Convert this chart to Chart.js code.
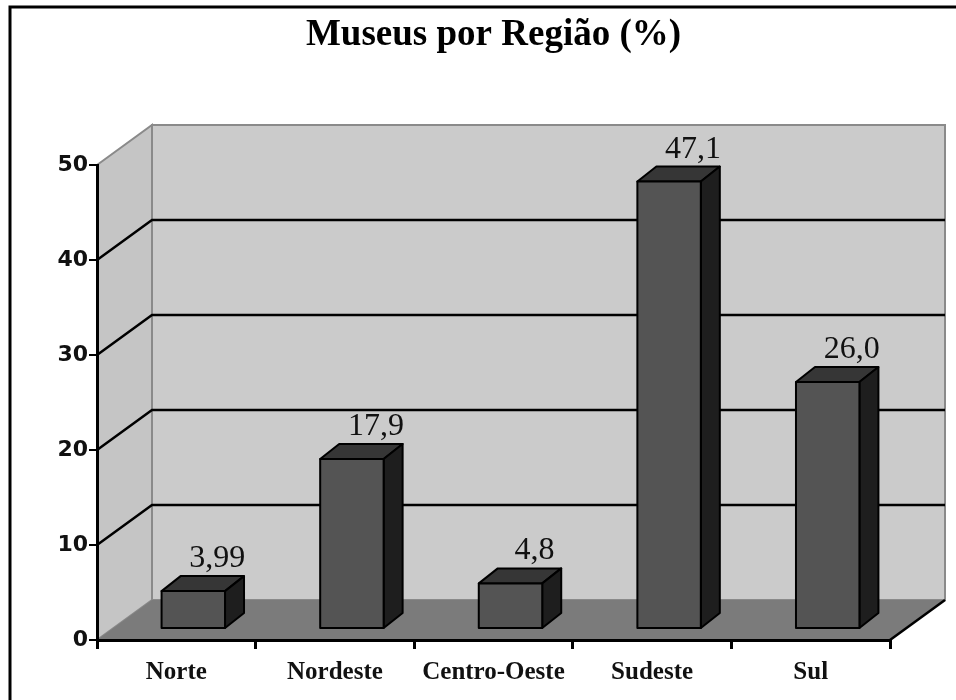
<!DOCTYPE html>
<html>
<head>
<meta charset="utf-8">
<script src="https://cdn.jsdelivr.net/npm/chart.js@4.4.1/dist/chart.umd.min.js"></script>
<style>
  html, body { margin: 0; background: #fff; }
  #wrap { width: 956px; height: 700px; }
</style>
</head>
<body>
<div id="wrap"><canvas id="grafico"></canvas></div>
<script>
const tituloGrafico = "Museus por Região (%)";
const regioes = ["Norte", "Nordeste", "Centro-Oeste", "Sudeste", "Sul"];
const percentuais = [3.99, 17.9, 4.8, 47.1, 26.0];
const rotulosValores = ["3,99", "17,9", "4,8", "47,1", "26,0"];
const ticksY = [0, 10, 20, 30, 40, 50];

// deslocamentos da perspectiva
const fundo = { dx: 55, dy: -40 };
const barraPos = { dx: 17, dy: -11 };
const barraProf = { dx: 19, dy: -15 };

function poly(ctx, pts, fill, stroke, lw) {
  ctx.beginPath();
  ctx.moveTo(pts[0][0], pts[0][1]);
  for (let i = 1; i < pts.length; i++) ctx.lineTo(pts[i][0], pts[i][1]);
  ctx.closePath();
  if (fill) { ctx.fillStyle = fill; ctx.fill(); }
  if (stroke) { ctx.strokeStyle = stroke; ctx.lineWidth = lw; ctx.stroke(); }
}

const cena3d = {
  id: "cena3d",
  beforeDraw(chart) {
    const ctx = chart.ctx;
    const { left, right, top, bottom } = chart.chartArea;
    const y = chart.scales.y;
    ctx.save();
    // moldura
    ctx.strokeStyle = "#000";
    ctx.lineWidth = 3;
    ctx.beginPath();
    ctx.moveTo(10, 720);
    ctx.lineTo(10, 7);
    ctx.lineTo(970, 7);
    ctx.stroke();

    const bx = fundo.dx, by = fundo.dy;
    // parede de fundo
    poly(ctx, [[left + bx, top + by], [right + bx, top + by], [right + bx, bottom + by], [left + bx, bottom + by]], "#cbcbcb", "#8a8a8a", 2);
    // parede lateral
    poly(ctx, [[left, top], [left + bx, top + by], [left + bx, bottom + by], [left, bottom]], "#c5c5c5", "#8a8a8a", 2);
    // piso
    poly(ctx, [[left, bottom], [right, bottom], [right + bx, bottom + by], [left + bx, bottom + by]], "#7b7b7b", null, 0);

    // linhas de grade
    ctx.strokeStyle = "#000";
    ctx.lineWidth = 2.5;
    ticksY.forEach((v) => {
      if (v === 0 || v === 50) return;
      const py = y.getPixelForValue(v);
      ctx.beginPath();
      ctx.moveTo(left, py);
      ctx.lineTo(left + bx, py + by);
      ctx.lineTo(right + bx, py + by);
      ctx.stroke();
    });
    // aresta do piso
    ctx.beginPath();
    ctx.moveTo(right, bottom);
    ctx.lineTo(right + bx, bottom + by);
    ctx.stroke();
    ctx.restore();
  },
  afterDatasetsDraw(chart) {
    const ctx = chart.ctx;
    const meta = chart.getDatasetMeta(0);
    ctx.save();
    ctx.lineJoin = "round";
    meta.data.forEach((bar, i) => {
      const w = bar.width;
      const x0 = bar.x - w / 2 + barraPos.dx;
      const x1 = bar.x + w / 2 + barraPos.dx;
      const yt = bar.y + barraPos.dy;
      const yb = bar.base + barraPos.dy;
      const dx = barraProf.dx, dy = barraProf.dy;
      // topo
      poly(ctx, [[x0, yt], [x1, yt], [x1 + dx, yt + dy], [x0 + dx, yt + dy]], "#363636", "#000", 2);
      // lateral
      poly(ctx, [[x1, yt], [x1 + dx, yt + dy], [x1 + dx, yb + dy], [x1, yb]], "#1e1e1e", "#000", 2);
      // frente
      poly(ctx, [[x0, yt], [x1, yt], [x1, yb], [x0, yb]], "#545454", "#000", 2);

      // rótulo do valor
      ctx.fillStyle = "#111";
      ctx.font = "32px 'Liberation Serif'";
      ctx.textAlign = "center";
      ctx.textBaseline = "alphabetic";
      ctx.fillText(rotulosValores[i], bar.x + barraPos.dx + 24, yt + dy - 9);
    });
    ctx.restore();
  }
};

new Chart(document.getElementById("grafico"), {
  type: "bar",
  data: {
    labels: regioes,
    datasets: [{
      data: percentuais,
      backgroundColor: "rgba(0,0,0,0)",
      borderWidth: 0,
      barPercentage: 0.4,
      categoryPercentage: 1
    }]
  },
  options: {
    responsive: true,
    maintainAspectRatio: false,
    animation: false,
    layout: { padding: { left: 0, right: 66, top: 0, bottom: 0 } },
    plugins: {
      legend: { display: false },
      tooltip: { enabled: false },
      title: {
        display: true,
        text: tituloGrafico,
        fullSize: false,
        color: "#000",
        font: { family: "'Liberation Serif'", size: 37, weight: "bold" },
        padding: { top: 13, bottom: 107.6 }
      }
    },
    scales: {
      x: {
        grid: { drawOnChartArea: false, drawTicks: true, tickLength: 9, color: "#000", lineWidth: 3 },
        border: { display: true, color: "#000", width: 3 },
        ticks: {
          color: "#111",
          padding: 9,
          font: { family: "'Liberation Serif'", size: 25, weight: "bold" }
        },
        afterFit(scale) { scale.height = 60; }
      },
      y: {
        min: 0,
        max: 50,
        afterBuildTicks(scale) { scale.ticks = ticksY.map((v) => ({ value: v })); },
        grid: { drawOnChartArea: false, drawTicks: true, tickLength: 8, color: "#000", lineWidth: 2 },
        border: { display: true, color: "#000", width: 3 },
        ticks: {
          color: "#111",
          padding: 1,
          font: { family: "'DejaVu Sans'", size: 22, weight: "bold" }
        },
        afterFit(scale) { scale.width = 97; }
      }
    }
  },
  plugins: [cena3d]
});
</script>
</body>
</html>
